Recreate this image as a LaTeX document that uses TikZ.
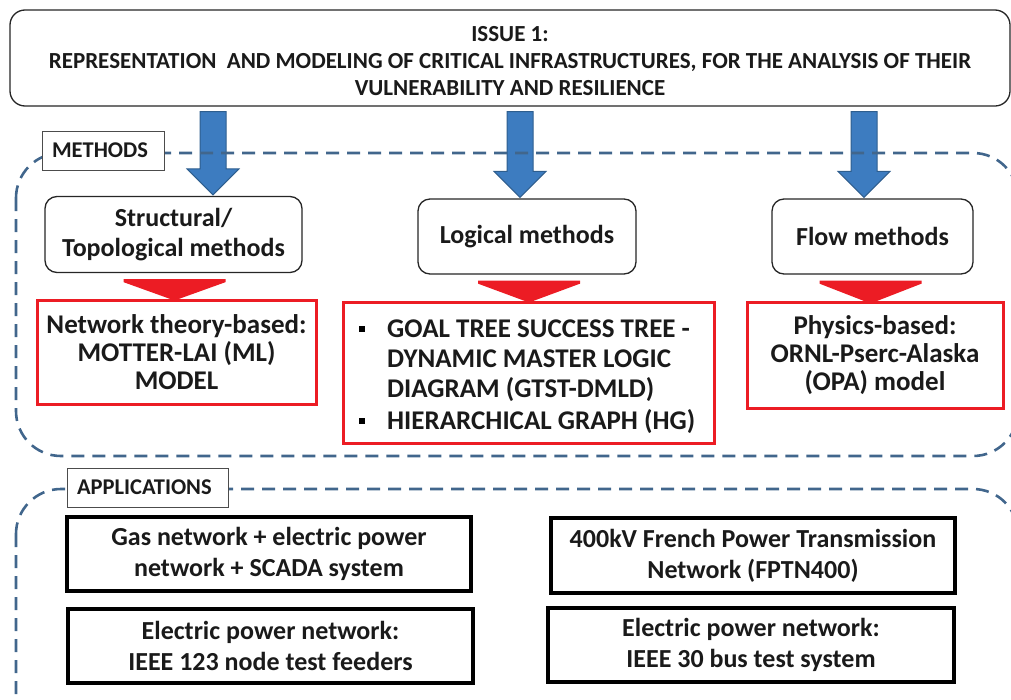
\documentclass[tikz,border=0pt]{standalone}
\usepackage{fontspec}
\setmainfont{Carlito}
\usetikzlibrary{calc}
\definecolor{dashblue}{HTML}{41668C}
\definecolor{arrfill}{HTML}{3D7CC0}
\definecolor{arrdraw}{HTML}{2E5E8E}
\definecolor{redc}{HTML}{EC1C24}
\definecolor{txt}{HTML}{1A1A1A}
\begin{document}
\begin{tikzpicture}[x=1pt,y=-1pt,
  every node/.style={text=txt,inner sep=0pt},
  topbox/.style={draw=black!85,line width=1.3pt,rounded corners=15pt,fill=white,
    minimum width=1000pt,minimum height=96pt},
  toptext/.style={align=center,font=\fontsize{23}{27}\selectfont\bfseries},
  mbox/.style={draw=black!85,line width=1.3pt,rounded corners=12pt,fill=white,align=center,
    font=\fontsize{26}{30}\selectfont\bfseries},
  rbox/.style={draw=redc,line width=3pt,fill=white,align=center,
    font=\fontsize{27}{28}\selectfont\bfseries},
  abox/.style={draw=black,line width=3.2pt,fill=white,align=center,
    font=\fontsize{26}{31}\selectfont\bfseries},
  lab/.style={draw=black!70,line width=0.8pt,fill=white,align=left,text width=#1,
    inner xsep=10pt,font=\fontsize{22.5}{24}\selectfont\bfseries},
  dashreg/.style={draw=dashblue,line width=2.6pt,dash pattern=on 13pt off 8pt,rounded corners=45pt},
  bluearr/.style={fill=arrfill,draw=arrdraw,line width=1pt},
  redtri/.style={fill=redc}
]
\useasboundingbox (0,0) rectangle (1011,699);

% top box
\node[topbox] (top) at (510,58) {};
\node[toptext] (topt) at ($(top.center)+(0,3)$) {ISSUE 1:\\REPRESENTATION\ \ AND MODELING OF CRITICAL INFRASTRUCTURES, FOR THE ANALYSIS OF THEIR\\VULNERABILITY AND RESILIENCE};

% method boxes
\node[mbox,minimum width=257pt,minimum height=76pt] (s) at (173.5,234.5) {Structural/\\Topological methods};
\node[mbox,minimum width=218pt,minimum height=75pt] (l) at (527,236.5) {Logical methods};
\node[mbox,minimum width=201pt,minimum height=75pt] (f) at (872.5,236.5) {Flow methods};

% arrow x positions
\coordinate (ax1) at (213,0);
\coordinate (ax2) at (520,0);
\coordinate (ax3) at (864,0);

\foreach \ax/\bx in {ax1/s,ax2/l,ax3/f}{
  \draw[bluearr] let \p1=(\ax |- top.south), \p2=(\ax |- \bx.north) in
    (\x1-13pt,\y1-5pt) -- (\x1+13pt,\y1-5pt) -- (\x1+13pt,\y2+27pt) -- (\x1+26pt,\y2+27pt)
    -- (\x1,\y2+1pt) -- (\x1-26pt,\y2+27pt) -- (\x1-13pt,\y2+27pt) -- cycle;
}

% dashed regions
\draw[dashreg] (16,153) rectangle (1018,456);
\draw[dashreg] (16,489) rectangle (1018,760);

% labels
\node[lab=102pt,minimum height=39pt] (mlab) at (103,150.5) {METHODS};
\node[lab=141pt,minimum height=39pt] (alab) at (147.5,487.5) {APPLICATIONS};

% red boxes
\node[rbox,minimum width=279pt,minimum height=104pt] (r1) at (176.5,352) {Network theory-based:\\MOTTER-LAI (ML)\\MODEL};
\node[rbox,minimum width=371pt,minimum height=141pt] (r2) at (528.5,372.5) {};
\node[rbox,minimum width=256pt,minimum height=106pt] (r3) at (875,355) {Physics-based:\\ORNL-Pserc-Alaska\\(OPA) model};

% bullet list in r2
\node[anchor=base west,align=left,font=\fontsize{27}{30}\selectfont\bfseries] (r2t) at (387,429)
  {GOAL TREE SUCCESS TREE -\\DYNAMIC MASTER LOGIC\\DIAGRAM (GTST-DMLD)\\[2pt]HIERARCHICAL GRAPH (HG)};
\fill[black] (359,326) rectangle (365,332);
\fill[black] (359,418) rectangle (365,424);

% red triangles
\fill[redtri] let \p1=(s.south), \p2=(r1.north) in
  (\x1-50pt,\y1-6pt) -- (\x1+52pt,\y1-6pt) -- (\x1+52pt,\y1-9pt) -- (\x1+1pt,\y2-2pt) -- (\x1-50pt,\y1-9pt) -- cycle;
\fill[redtri] let \p1=(l.south), \p2=(r2.north) in
  (\x1-49pt,\y1-6pt) -- (\x1+53pt,\y1-6pt) -- (\x1+53pt,\y1-9pt) -- (\x1+2pt,\y2-2pt) -- (\x1-49pt,\y1-9pt) -- cycle;
\fill[redtri] let \p1=(f.south), \p2=(r3.north) in
  (\x1-53pt,\y1-6pt) -- (\x1+49pt,\y1-6pt) -- (\x1+49pt,\y1-9pt) -- (\x1-2pt,\y2-3pt) -- (\x1-53pt,\y1-9pt) -- cycle;

% application boxes
\node[abox,minimum width=404pt,minimum height=74pt] (a1) at (269,554) {Gas network + electric power\\network + SCADA system};
\node[abox,minimum width=405pt,minimum height=74pt] (a2) at (270.5,646) {Electric power network:\\IEEE 123 node test feeders};
\node[abox,minimum width=404pt,minimum height=75pt] (a3) at (753,555.5) {400kV French Power Transmission\\Network (FPTN400)};
\node[abox,minimum width=406pt,minimum height=74pt] (a4) at (751,645) {Electric power network:\\IEEE 30 bus test system};
\end{tikzpicture}
\end{document}
